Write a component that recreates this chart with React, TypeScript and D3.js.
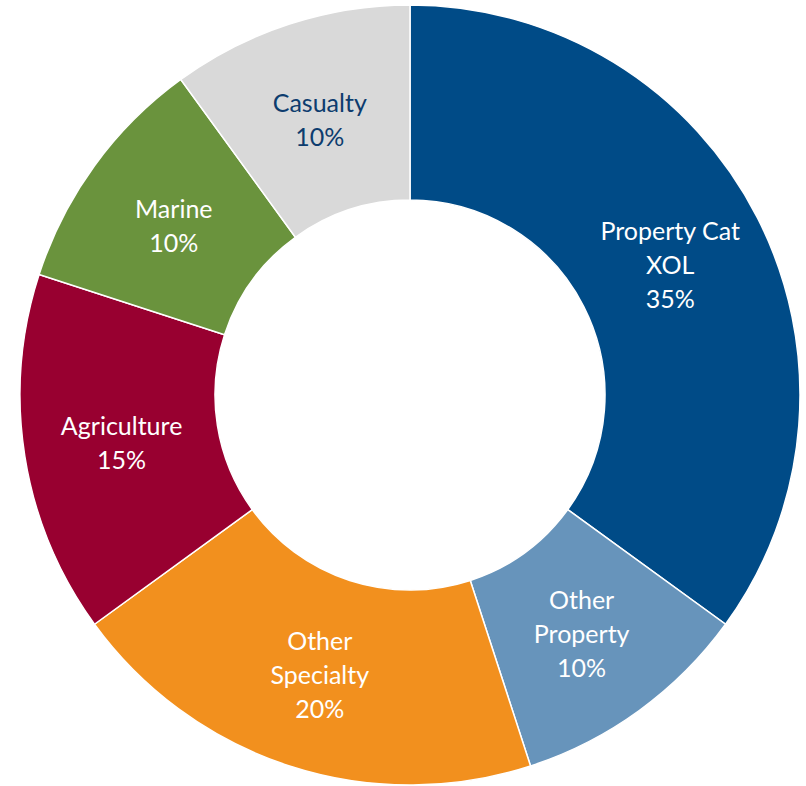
import React from "react";
import * as d3 from "d3";

const categories = ["Property Cat XOL", "Other Property", "Other Specialty", "Agriculture", "Marine", "Casualty"];
const values = [35, 10, 20, 15, 10, 10];
const labelLines = [["Property Cat", "XOL", "35%"], ["Other", "Property", "10%"], ["Other", "Specialty", "20%"], ["Agriculture", "15%"], ["Marine", "10%"], ["Casualty", "10%"]];
const colors = ["#004b87", "#6794bb", "#f2901e", "#980030", "#6a933d", "#d9d9d9"];
const textColors = ["#ffffff", "#ffffff", "#ffffff", "#ffffff", "#ffffff", "#0d3c6e"];

export default function App() {
  const W = 806, H = 786;
  const cx = 410, cy = 395, R = 390, r = 195;
  const data = categories.map((c, i) => ({ c, v: values[i], i }));
  const pie = d3.pie<any>().value((d) => d.v).sort(null);
  const arcs = pie(data);
  const arc = d3.arc<any>().innerRadius(r).outerRadius(R);
  const labelArc = d3.arc<any>().innerRadius(292).outerRadius(292);
  const lh = 34;
  return (
    <svg width={W} height={H} style={{ position: "absolute", left: 0, top: 0 }}>
      <g transform={`translate(${cx},${cy})`}>
        {arcs.map((a, i) => (
          <path key={i} d={arc(a) as string} fill={colors[i]} stroke="#ffffff" strokeWidth={1.5} />
        ))}
        {arcs.map((a, i) => {
          const [x, y] = labelArc.centroid(a);
          const lines = labelLines[i];
          const y0 = y + 3 - ((lines.length - 1) * lh) / 2;
          return (
            <text key={i} textAnchor="middle" fill={textColors[i]} fontFamily="Lato, 'Open Sans', sans-serif" fontSize={25}>
              {lines.map((l, j) => (
                <tspan key={j} x={x} y={y0 + j * lh} dy="0.35em">{l}</tspan>
              ))}
            </text>
          );
        })}
      </g>
    </svg>
  );
}
